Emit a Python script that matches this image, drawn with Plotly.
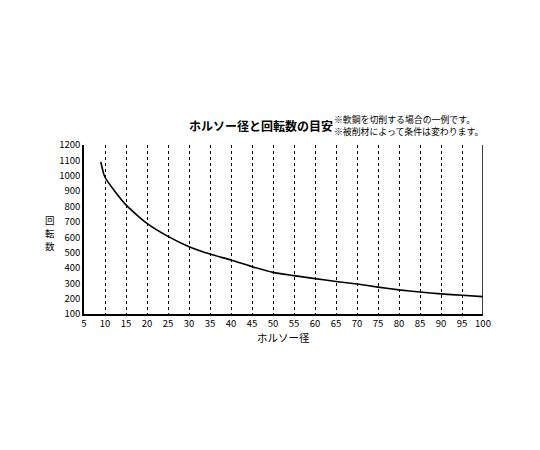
import plotly.graph_objects as go

# ホルソー径 (mm) と回転数 (rpm)
diameters = [9, 10, 15, 20, 25, 30, 35, 40, 45, 50, 55, 60, 65, 70, 75, 80, 85, 90, 95, 100]
speeds = [1090, 990, 810, 690, 605, 538, 490, 451, 408, 371, 350, 330, 312, 295, 275, 257, 243, 231, 222, 213]

x_ticks = list(range(5, 105, 5))
y_ticks = list(range(100, 1300, 100))

FONT = "Noto Sans CJK JP"

fig = go.Figure()
fig.add_trace(go.Scatter(
    x=diameters, y=speeds, mode="lines",
    line=dict(color="black", width=1.6, shape="spline", smoothing=0.6),
    showlegend=False, hoverinfo="skip",
))

# solid right edge at 100
fig.add_shape(type="line", xref="x", yref="paper", x0=100, x1=100, y0=0, y1=1,
              line=dict(color="black", width=1.5))

fig.add_annotation(text="<b>ホルソー径と回転数の目安</b>", xref="paper", yref="paper",
                   x=0.258, y=1.118, xanchor="left", yanchor="middle", showarrow=False,
                   font=dict(family=FONT, size=12, color="black"))
fig.add_annotation(text="※軟鋼を切削する場合の一例です。<br>※被削材によって条件は変わります。",
                   xref="paper", yref="paper", x=0.622, y=1.118, xanchor="left",
                   yanchor="middle", align="left", showarrow=False,
                   font=dict(family=FONT, size=8.9, color="black"))
# vertical y-axis title, one character per row
for i, ch in enumerate("回転数"):
    fig.add_annotation(text=ch, xref="paper", yref="paper", x=-0.085, y=0.479,
                       yshift=13 - 13 * i, xanchor="center", yanchor="middle",
                       showarrow=False, borderpad=0,
                       font=dict(family=FONT, size=9.5, color="black"))
fig.add_annotation(text="ホルソー径", xref="paper", yref="paper", x=0.499, y=-0.14,
                   xanchor="center", yanchor="middle", showarrow=False,
                   font=dict(family=FONT, size=10.5, color="black"))

fig.update_layout(
    width=540, height=450,
    margin=dict(l=76, r=65, t=137, b=144),
    paper_bgcolor="white", plot_bgcolor="white",
    font=dict(family=FONT, size=9.5, color="black"),
    xaxis=dict(
        range=[5, 100], tickvals=x_ticks, ticks="", showline=True, linecolor="black",
        linewidth=1.5, showgrid=True, gridcolor="black", gridwidth=1, griddash="3px,3px",
        zeroline=False,
    ),
    yaxis=dict(
        range=[100, 1200], tickvals=y_ticks, ticks="", showline=True, linecolor="black",
        linewidth=1.5, showgrid=False, zeroline=False,
    ),
)

fig.write_html("out.html")
